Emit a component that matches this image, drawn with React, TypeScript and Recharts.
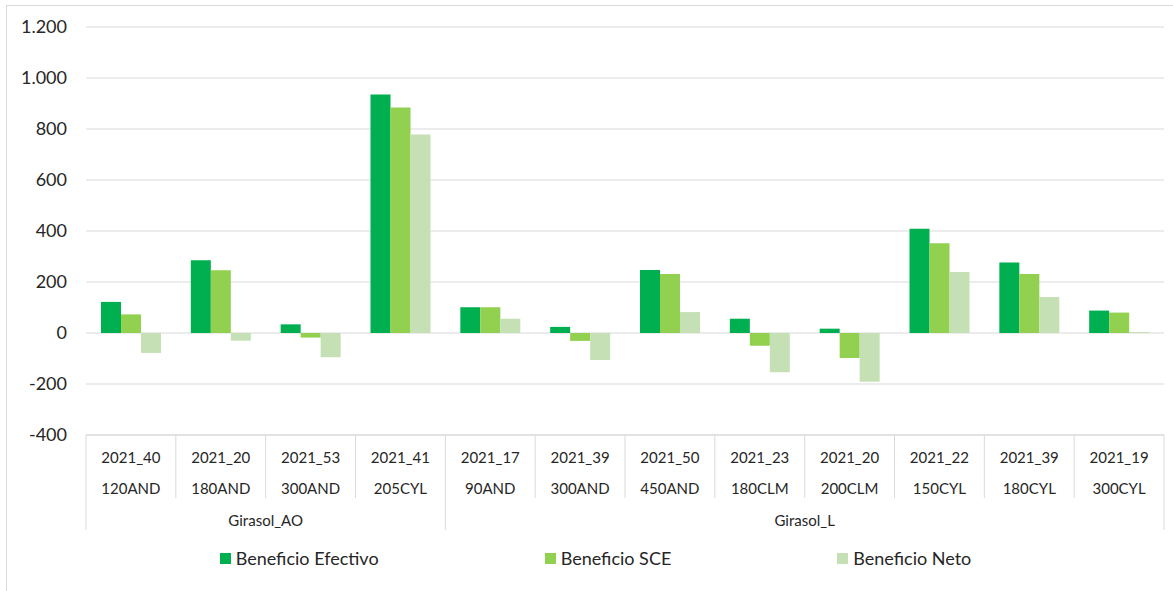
import React from 'react';
import { BarChart, Bar, XAxis, YAxis, CartesianGrid, Legend } from 'recharts';

const categoryIds = ['2021_40', '2021_20', '2021_53', '2021_41', '2021_17', '2021_39', '2021_50', '2021_23', '2021_20', '2021_22', '2021_39', '2021_19'];
const categoryCodes = ['120AND', '180AND', '300AND', '205CYL', '90AND', '300AND', '450AND', '180CLM', '200CLM', '150CYL', '180CYL', '300CYL'];
const groupNames = ['Girasol_AO', 'Girasol_AO', 'Girasol_AO', 'Girasol_AO', 'Girasol_L', 'Girasol_L', 'Girasol_L', 'Girasol_L', 'Girasol_L', 'Girasol_L', 'Girasol_L', 'Girasol_L'];
const beneficioEfectivo = [122, 285, 34, 935, 101, 24, 247, 56, 17, 409, 276, 88];
const beneficioSCE = [73, 246, -18, 884, 101, -31, 231, -50, -98, 352, 231, 80];
const beneficioNeto = [-78, -30, -95, 778, 56, -106, 82, -154, -191, 239, 141, 4];
const yTicks = [-400, -200, 0, 200, 400, 600, 800, 1000, 1200];

const seriesNames = ['Beneficio Efectivo', 'Beneficio SCE', 'Beneficio Neto'];
const seriesColors = ['#00B050', '#92D050', '#C5E0B4'];

const data = categoryIds.map((id, i) => ({
  key: `${id}|${categoryCodes[i]}|${i}`,
  id,
  code: categoryCodes[i],
  group: groupNames[i],
  efectivo: beneficioEfectivo[i],
  sce: beneficioSCE[i],
  neto: beneficioNeto[i],
}));

const FONT = 'Lato, "Open Sans", sans-serif';
const TEXT = '#262626';
const LINE = '#d9d9d9';

function fmt(n: number): string {
  const s = Math.abs(n).toString();
  const withDots = s.replace(/\B(?=(\d{3})+(?!\d))/g, '.');
  return (n < 0 ? '-' : '') + withDots;
}

const groupRanges: { name: string; start: number; end: number }[] = [];
groupNames.forEach((g, i) => {
  const last = groupRanges[groupRanges.length - 1];
  if (last && last.name === g) last.end = i;
  else groupRanges.push({ name: g, start: i, end: i });
});

const CategoryTick = (props: any) => {
  const { x, y, payload } = props;
  const index: number = payload.index ?? props.index;
  const half: number = payload.offset || 45;
  const d = data[index];
  if (!d) return null;
  const band = half * 2;
  const rowLine = 63;
  const groupLine = 95;
  const isGroupStart = groupRanges.some((g) => g.start === index);
  const isLast = index === data.length - 1;
  const groupHere = groupRanges.find((g) => Math.floor((g.start + g.end) / 2) === index);
  return (
    <g>
      <line x1={x - half} x2={x - half} y1={y} y2={y + (isGroupStart ? groupLine : rowLine)} stroke={LINE} strokeWidth={1} />
      {isLast && <line x1={x + half} x2={x + half} y1={y} y2={y + groupLine} stroke={LINE} strokeWidth={1} />}
      <text x={x} y={y + 22} textAnchor="middle" dominantBaseline="central" fontSize={15} fontFamily={FONT} fill={TEXT}>{d.id}</text>
      <text x={x} y={y + 53} textAnchor="middle" dominantBaseline="central" fontSize={15} fontFamily={FONT} fill={TEXT}>{d.code}</text>
      {groupHere && (
        <text
          x={x + ((groupHere.start + groupHere.end) / 2 - index) * band}
          y={y + 85}
          textAnchor="middle"
          dominantBaseline="central"
          fontSize={15}
          fontFamily={FONT}
          fill={TEXT}
        >
          {groupHere.name}
        </text>
      )}
    </g>
  );
};

const LegendContent = () => (
  <div style={{ display: 'flex', justifyContent: 'center', gap: 166, paddingLeft: 18, fontFamily: FONT, fontSize: 18, color: TEXT, height: 20, alignItems: 'center' }}>
    {seriesNames.map((n, i) => (
      <div key={n} style={{ display: 'flex', alignItems: 'center' }}>
        <span style={{ display: 'inline-block', width: 11, height: 11, background: seriesColors[i], marginRight: 5 }} />
        <span>{n}</span>
      </div>
    ))}
  </div>
);

export default function App() {
  return (
    <div style={{ position: 'absolute', left: 0, top: 0, width: 1173, height: 591, background: '#fff' }}>
      <div style={{ position: 'absolute', left: 6, top: 5, width: 1167, height: 586, borderLeft: `1px solid ${LINE}`, borderTop: `1px solid ${LINE}` }} />
      <BarChart
        width={1173}
        height={591}
        data={data}
        margin={{ top: 27, right: 9, bottom: 56, left: 0 }}
        barCategoryGap="16.7%"
        barGap={0}
      >
        <CartesianGrid vertical={false} stroke={LINE} />
        <XAxis
          dataKey="key"
          height={100}
          axisLine={{ stroke: LINE }}
          tickLine={false}
          tickSize={0}
          tickMargin={0}
          interval={0}
          tick={<CategoryTick />}
        />
        <YAxis
          width={86}
          domain={[-400, 1200]}
          ticks={yTicks}
          axisLine={false}
          tickLine={false}
          tickSize={0}
          tickMargin={19}
          tickFormatter={fmt}
          tick={{ fontSize: 18, fontFamily: FONT, fill: TEXT }}
        />
        <Legend
          verticalAlign="middle"
          align="center"
          layout="horizontal"
          content={<LegendContent />}
          wrapperStyle={{ top: 548, left: 0, width: 1173, height: 20 }}
        />
        <Bar dataKey="efectivo" name={seriesNames[0]} fill={seriesColors[0]} isAnimationActive={false} />
        <Bar dataKey="sce" name={seriesNames[1]} fill={seriesColors[1]} isAnimationActive={false} />
        <Bar dataKey="neto" name={seriesNames[2]} fill={seriesColors[2]} isAnimationActive={false} />
      </BarChart>
    </div>
  );
}
